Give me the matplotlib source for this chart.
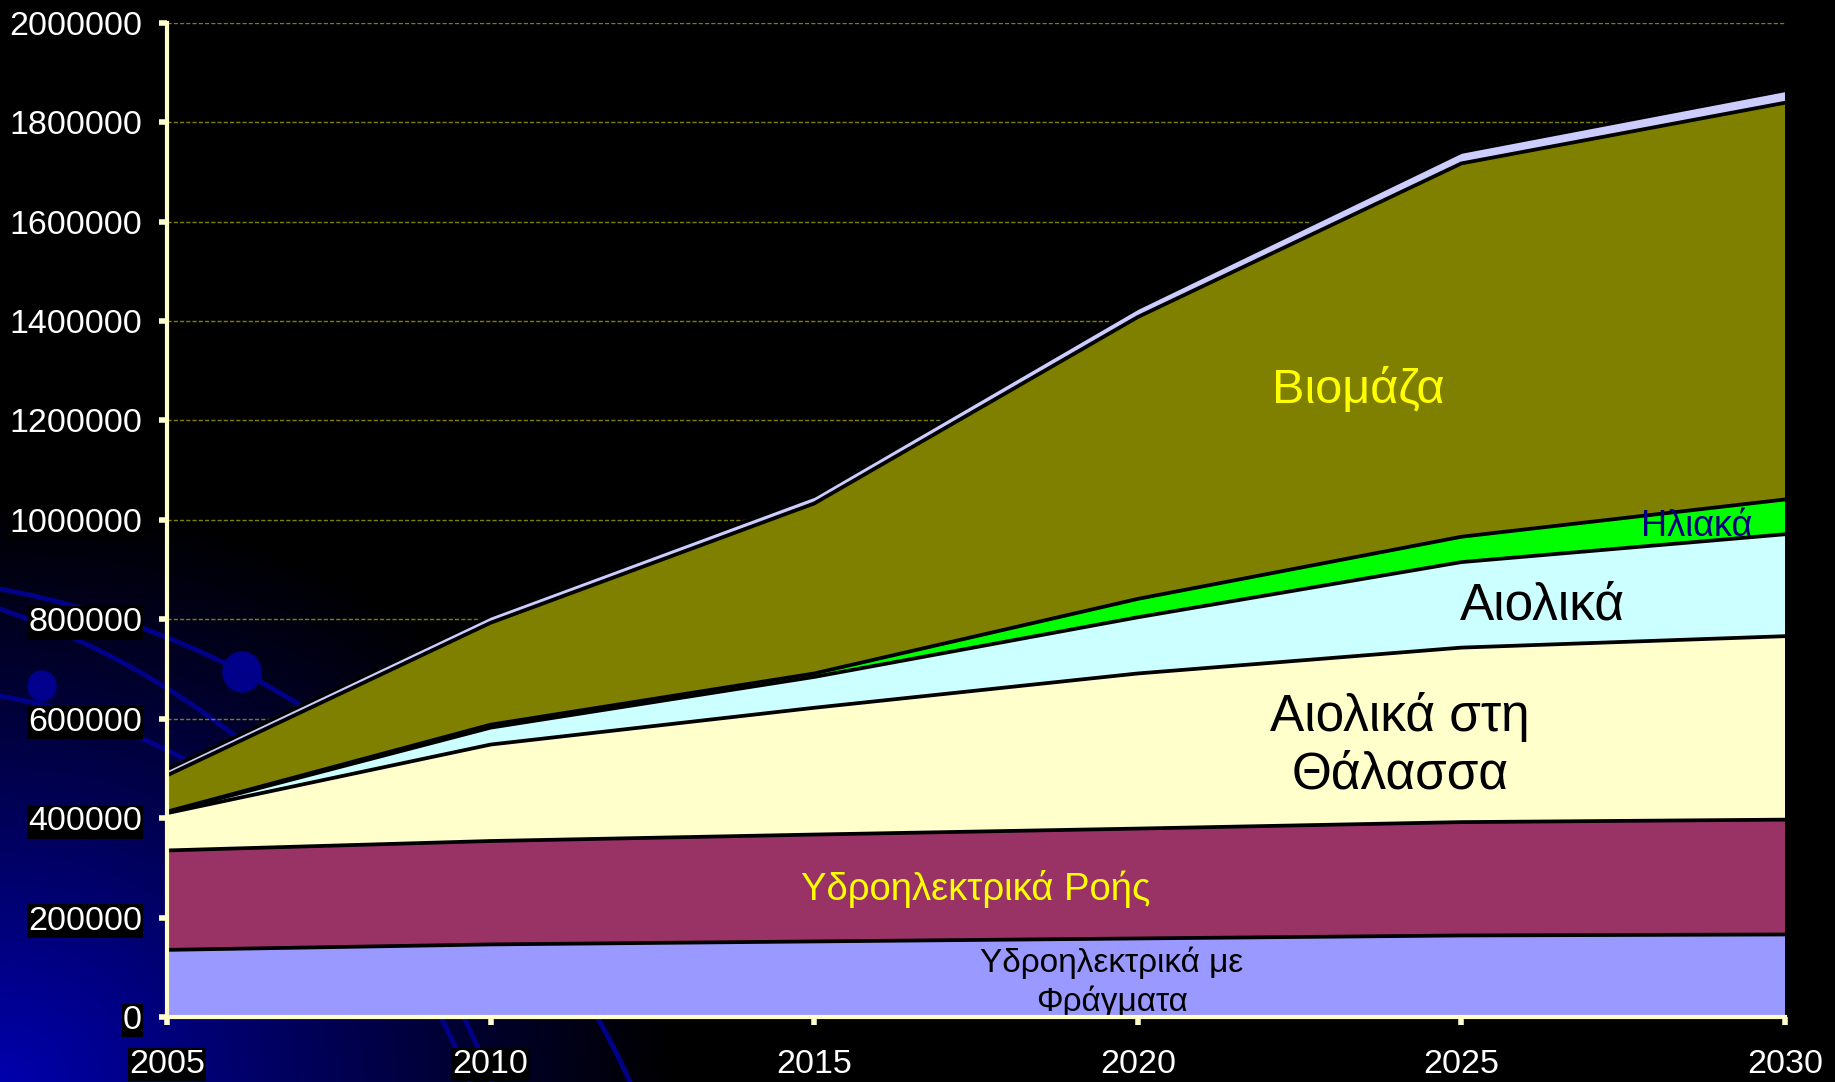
import numpy as np
import matplotlib
matplotlib.use("Agg")
import matplotlib.pyplot as plt
from matplotlib.patches import Ellipse

plt.rcParams['font.family'] = ['Liberation Sans', 'DejaVu Sans']

# ---------------- data ----------------
years = [2005, 2010, 2015, 2020, 2025, 2030]
hydro_dams = [135000, 146000, 152000, 158000, 164000, 166000]
hydro_river = [200000, 208000, 215000, 221000, 228000, 231000]
wind_offshore = [75000, 194000, 255000, 312000, 351000, 369000]
wind = [2000, 34000, 62000, 113000, 172000, 205000]
solar = [1000, 6000, 7000, 37000, 51000, 70000]
biomass = [73000, 205000, 342000, 567000, 751000, 798000]
other = [12000, 14000, 15000, 18000, 23000, 25000]
other_thin = [3000, 3000, 3000, 3000, 3000, 3000]

series = [hydro_dams, hydro_river, wind_offshore, wind, solar, biomass, other, other_thin]
colors = ['#9999FF', '#993366', '#FFFFCC', '#CCFFFF', '#00FF00', '#808000', '#CCCCFF', '#B0B0B0']
outlined = [True, True, True, True, True, True, True, False]

y_ticks = [0, 200000, 400000, 600000, 800000, 1000000, 1200000, 1400000,
           1600000, 1800000, 2000000]
y_tick_labels = [str(v) for v in y_ticks]
x_ticks = years
x_tick_labels = [str(y) for y in years]

# ---------------- figure ----------------
W, H = 1835, 1082
fig = plt.figure(figsize=(W / 100, H / 100), dpi=100, facecolor='black')

# background decoration (template gradient + orbit arcs)
bg = fig.add_axes([0, 0, 1, 1], zorder=0)
bg.set_xlim(0, W)
bg.set_ylim(H, 0)
bg.axis('off')
xx, yy = np.meshgrid(np.arange(0, W, 2), np.arange(0, H, 2))
r = np.sqrt((xx / 680.0) ** 2 + ((H - yy) / 590.0) ** 2)
inten = np.clip(1 - r, 0, 1) ** 1.1
img = np.zeros(xx.shape + (3,))
img[..., 2] = inten * 0.68
bg.imshow(img, extent=(0, W, H, 0), aspect='auto', interpolation='bilinear')


def circle3(p1, p2, p3):
    (x1, y1), (x2, y2), (x3, y3) = p1, p2, p3
    A = np.array([[x2 - x1, y2 - y1], [x3 - x2, y3 - y2]], float) * 2
    b = np.array([x2**2 - x1**2 + y2**2 - y1**2, x3**2 - x2**2 + y3**2 - y2**2], float)
    cx, cy = np.linalg.solve(A, b)
    return cx, cy, np.hypot(x1 - cx, y1 - cy)


arcs = [((0, 589), (242, 672), (630, 1082)),
        ((0, 609), (179, 696), (492, 1082)),
        ((0, 696), (188, 761), (470, 1082))]
for p1, p2, p3 in arcs:
    cx, cy, rr = circle3(p1, p2, p3)
    a0 = np.arctan2(p1[1] - cy, p1[0] - cx)
    a1 = np.arctan2(p3[1] - cy, p3[0] - cx)
    t = np.linspace(a0, a1, 300)
    bg.plot(cx + rr * np.cos(t), cy + rr * np.sin(t), color='#000088', lw=3.5,
            solid_capstyle='round')
bg.add_patch(Ellipse((242, 672), 38, 40, color='#00008C'))
bg.add_patch(Ellipse((42, 686), 28, 30, color='#00008C'))

# main axes
ax = fig.add_axes([167 / W, 1 - 1017 / H, (1785 - 167) / W, (1017 - 22.7) / H], zorder=1)
ax.set_facecolor('none')

cum = np.cumsum(np.array(series, float), axis=0)
base = np.zeros(len(years))
for i, top in enumerate(cum):
    ax.fill_between(years, base, top, facecolor=colors[i], edgecolor='none', zorder=1)
    base = top
for i, top in enumerate(cum):
    if outlined[i]:
        ax.plot(years, top, color='black', lw=2.7, zorder=2, solid_joinstyle='round')

ax.set_xlim(2005, 2030)
ax.set_ylim(0, 2000000)
ax.set_yticks(y_ticks)
ax.set_yticklabels(y_tick_labels)
ax.set_xticks(x_ticks)
ax.set_xticklabels(x_tick_labels)

ax.set_axisbelow(True)
ax.yaxis.grid(True, color='#808000', lw=1.0, ls=(0, (3, 1.5)))
ax.xaxis.grid(False)

for s in ['top', 'right']:
    ax.spines[s].set_visible(False)
for s in ['left', 'bottom']:
    ax.spines[s].set_color('#FFFFCC')
    ax.spines[s].set_linewidth(3.0)
    ax.spines[s].set_zorder(4)

ax.tick_params(axis='both', colors='#FFFFCC', direction='out', length=6, width=4.0,
               labelcolor='white', labelsize=24.5)
ax.tick_params(axis='y', pad=12)
ax.tick_params(axis='x', pad=17)
for lab in ax.get_yticklabels() + ax.get_xticklabels():
    lab.set_bbox(dict(facecolor='black', edgecolor='none', pad=1))

# in-area labels
ax.text(2023.4, 1262000, 'Βιομάζα', color='#FFFF00', fontsize=35, ha='center', va='center', zorder=3)
ax.text(2029.5, 986700, 'Ηλιακά', color='#000080', fontsize=26, ha='right', va='center', zorder=3)
ax.text(2026.25, 826000, 'Αιολικά', color='black', fontsize=37, ha='center', va='center', zorder=3)
ax.text(2024.05, 546000, 'Αιολικά στη\nΘάλασσα', color='black', fontsize=37, ha='center',
        va='center', linespacing=1.22, zorder=3)
ax.text(2017.5, 257000, 'Υδροηλεκτρικά Ροής', color='#FFFF00', fontsize=27.5, ha='center',
        va='center', zorder=3)
ax.text(2019.6, 70000, 'Υδροηλεκτρικά με\nΦράγματα', color='black', fontsize=24, ha='center',
        va='center', linespacing=1.25, zorder=3)

fig.savefig('out.png', dpi=100, facecolor='black')
